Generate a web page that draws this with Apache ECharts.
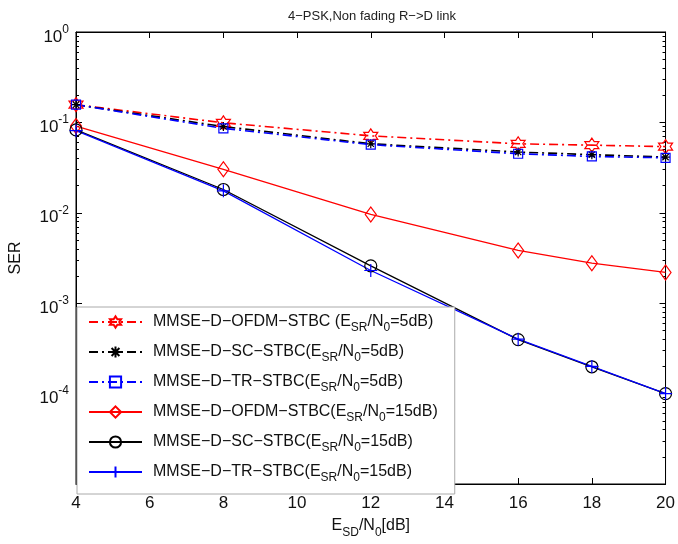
<!DOCTYPE html>
<html>
<head>
<meta charset="utf-8">
<script src="https://cdn.jsdelivr.net/npm/echarts@6/dist/echarts.min.js"></script>
<style>
  html, body { margin: 0; padding: 0; background: #fff; }
  #chart { width: 678px; height: 544px; }
</style>
</head>
<body>
<div id="chart"></div>
<script>
// E_SD/N0 in dB
const snr = [4, 8, 12, 16, 18, 20];

// SER
const ofdm5 = [0.157, 0.099, 0.071, 0.058, 0.056, 0.054];
const sc5   = [0.157, 0.090, 0.058, 0.047, 0.044, 0.0413];
const tr5   = [0.157, 0.086, 0.0567, 0.045, 0.042, 0.0406];
const ofdm15 = [0.091, 0.0303, 0.0096, 0.00383, 0.00277, 0.00219];
const sc15   = [0.0826, 0.0181, 0.00259, 0.000396, 0.000198, 0.0001];
const tr15   = [0.081, 0.0175, 0.0023, 0.0004, 0.0002, 0.0001];

const xTicks = [4, 6, 8, 10, 12, 14, 16, 18, 20];

const names = [
  'MMSE-D-OFDM-STBC (ESR/N0=5dB)',
  'MMSE-D-SC-STBC(ESR/N0=5dB)',
  'MMSE-D-TR-STBC(ESR/N0=5dB)',
  'MMSE-D-OFDM-STBC(ESR/N0=15dB)',
  'MMSE-D-SC-STBC(ESR/N0=15dB)',
  'MMSE-D-TR-STBC(ESR/N0=15dB)'
];
const legendText = [
  '{f|MMSE−D−OFDM−STBC (E}{s|SR}{m|/N}{s|0}{m|=5dB)}',
  '{f|MMSE−D−SC−STBC(E}{s|SR}{m|/N}{s|0}{m|=5dB)}',
  '{f|MMSE−D−TR−STBC(E}{s|SR}{m|/N}{s|0}{m|=5dB)}',
  '{f|MMSE−D−OFDM−STBC(E}{s|SR}{m|/N}{s|0}{m|=15dB)}',
  '{f|MMSE−D−SC−STBC(E}{s|SR}{m|/N}{s|0}{m|=15dB)}',
  '{f|MMSE−D−TR−STBC(E}{s|SR}{m|/N}{s|0}{m|=15dB)}'
];

// minor tick positions for the log axis (2..9 per decade)
const minorTicks = [];
for (let e = -5; e < 0; e++) {
  for (let k = 2; k <= 9; k++) minorTicks.push(k * Math.pow(10, e));
}

const HEX = 'path://M0,-1L0.289,-0.5L0.866,-0.5L0.577,0L0.866,0.5L0.289,0.5L0,1L-0.289,0.5L-0.866,0.5L-0.577,0L-0.866,-0.5L-0.289,-0.5Z';
const STAR = 'path://M0,-1L0,1M-1,0L1,0M-0.7,-0.7L0.7,0.7M-0.7,0.7L0.7,-0.7';
const DIAMOND = 'path://M0,-1L0.65,0L0,1L-0.65,0Z';
const PLUS = 'path://M0,-1L0,1M-1,0L1,0';
const DASHDOT = [9, 4, 2, 4];

const RED = '#ff0000', BLACK = '#000000', BLUE = '#0000ff';
const FONT = 'Liberation Sans';

function mkSeries(name, data, color, symbol, size, dashed) {
  return {
    name: name,
    type: 'line',
    xAxisIndex: 0,
    yAxisIndex: 0,
    data: snr.map((x, i) => [x, data[i]]),
    symbol: symbol,
    symbolSize: size,
    showAllSymbol: true,
    lineStyle: { color: color, width: dashed ? 1.6 : 1.3, type: dashed ? DASHDOT : 'solid' },
    itemStyle: { color: 'rgba(0,0,0,0)', borderColor: color, borderWidth: 1.2 },
    emphasis: { disabled: true },
    z: 3
  };
}

const chart = echarts.init(document.getElementById('chart'));

chart.setOption({
  animation: false,
  backgroundColor: '#fff',
  title: {
    text: '4−PSK,Non fading R−>D link',
    left: 367, top: 5, textAlign: 'center',
    textStyle: { fontSize: 13, fontWeight: 'normal', color: '#222', fontFamily: FONT }
  },
  grid: { left: 74, right: 11, top: 32, bottom: 52, show: true, borderColor: '#000', borderWidth: 1, backgroundColor: '#fff' },
  legend: {
    data: names,
    orient: 'vertical',
    left: 77, top: 307,
    itemWidth: 53, itemHeight: 14, itemGap: 10,
    padding: [7, 17, 10, 11],
    backgroundColor: '#fff',
    borderColor: '#aaa', borderWidth: 1,
    formatter: n => legendText[names.indexOf(n)],
    textStyle: {
      rich: {
        f: { fontSize: 16, lineHeight: 16, padding: [0, 0, 0, 6], verticalAlign: 'top', fontFamily: FONT, color: '#111' },
        m: { fontSize: 16, lineHeight: 16, verticalAlign: 'top', fontFamily: FONT, color: '#111' },
        s: { fontSize: 12, lineHeight: 12, padding: [8, 0, 0, 0], verticalAlign: 'top', fontFamily: FONT, color: '#111' }
      }
    },
    z: 10
  },
  xAxis: [
    {
      type: 'value', min: 4, max: 20, interval: 2, position: 'bottom',
      name: '{m|E}{s|SD}{m|/N}{s|0}{m|[dB]}', nameLocation: 'middle', nameGap: 34,
      nameTextStyle: {
        rich: {
          m: { fontSize: 16, lineHeight: 16, verticalAlign: 'top', fontFamily: FONT, color: '#111' },
          s: { fontSize: 12, lineHeight: 12, padding: [9, 0, 0, 0], verticalAlign: 'top', fontFamily: FONT, color: '#111' }
        }
      },
      axisLine: { show: true, lineStyle: { color: '#000' } },
      axisTick: { show: true, inside: true, length: 6, lineStyle: { color: '#000' } },
      axisLabel: { fontSize: 17, color: '#111', fontFamily: FONT, margin: 11, customValues: xTicks },
      splitLine: { show: false }
    },
    {
      type: 'value', min: 4, max: 20, interval: 2, position: 'top',
      axisLine: { show: true, lineStyle: { color: '#000' } },
      axisTick: { show: true, inside: true, length: 6, lineStyle: { color: '#000' } },
      axisLabel: { show: false },
      splitLine: { show: false }
    }
  ],
  yAxis: [
    {
      type: 'log', logBase: 10, min: 1e-5, max: 1, position: 'left',
      name: 'SER', nameLocation: 'middle', nameGap: 52, nameRotate: 90,
      nameTextStyle: { fontSize: 16, color: '#111', fontFamily: FONT },
      axisLine: { show: true, lineStyle: { color: '#000' } },
      axisTick: { show: true, inside: true, length: 6, lineStyle: { color: '#000' } },
      axisLabel: {
        margin: 7,
        formatter: v => {
          const e = Math.round(Math.log10(v));
          if (e === -5) return '';
          return '{b|10}{e|' + e + '}';
        },
        rich: {
          b: { fontSize: 17, lineHeight: 17, padding: [5, 0, 8, 0], verticalAlign: 'top', fontFamily: FONT, color: '#111' },
          e: { fontSize: 12, lineHeight: 12, verticalAlign: 'top', fontFamily: FONT, color: '#111' }
        }
      },
      splitLine: { show: false }
    },
    {
      type: 'log', logBase: 10, min: 1e-5, max: 1, position: 'left',
      axisLine: { show: false },
      axisTick: { show: true, inside: true, length: 3, customValues: minorTicks, lineStyle: { color: '#000' } },
      axisLabel: { show: false },
      splitLine: { show: false }
    },
    {
      type: 'log', logBase: 10, min: 1e-5, max: 1, position: 'right',
      axisLine: { show: true, lineStyle: { color: '#000' } },
      axisTick: { show: true, inside: true, length: 6, lineStyle: { color: '#000' } },
      axisLabel: { show: false },
      splitLine: { show: false }
    },
    {
      type: 'log', logBase: 10, min: 1e-5, max: 1, position: 'right',
      axisLine: { show: false },
      axisTick: { show: true, inside: true, length: 3, customValues: minorTicks, lineStyle: { color: '#000' } },
      axisLabel: { show: false },
      splitLine: { show: false }
    }
  ],
  series: [
    mkSeries(names[0], ofdm5, RED, HEX, 14, true),
    mkSeries(names[1], sc5, BLACK, STAR, 9, true),
    mkSeries(names[2], tr5, BLUE, 'rect', 9, true),
    mkSeries(names[3], ofdm15, RED, DIAMOND, [11, 15], false),
    mkSeries(names[4], sc15, BLACK, 'circle', 12, false),
    mkSeries(names[5], tr15, BLUE, PLUS, 13, false)
  ]
});
</script>
</body>
</html>
